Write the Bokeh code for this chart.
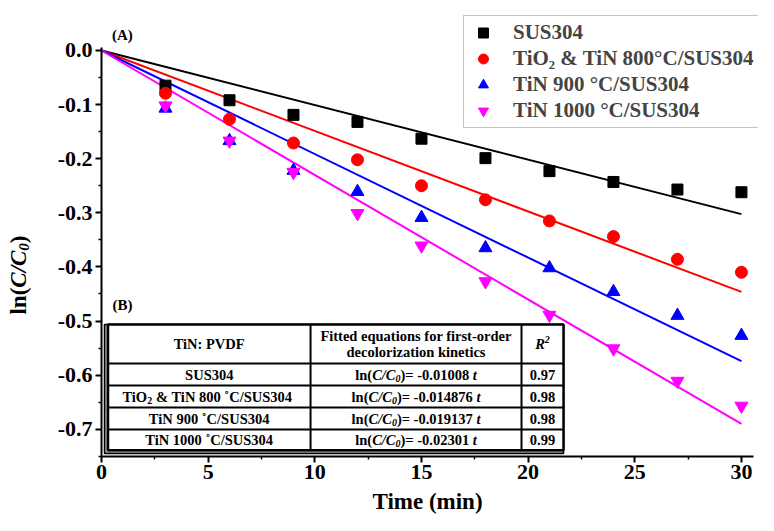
import math
from bokeh.plotting import figure
from bokeh.models import Range1d, FixedTicker, PrintfTickFormatter, Label, ColumnDataSource, LinearAxis
from bokeh.core.properties import value
from bokeh.embed import file_html
from bokeh.resources import INLINE

# ---------------- data ----------------
time_min = [3, 6, 9, 12, 15, 18, 21, 24, 27, 30]
sus304 = [-0.065, -0.092, -0.119, -0.132, -0.163, -0.199, -0.223, -0.243, -0.257, -0.262]
tin800 = [-0.079, -0.127, -0.171, -0.202, -0.250, -0.276, -0.315, -0.344, -0.386, -0.410]
tin900 = [-0.107, -0.167, -0.222, -0.261, -0.309, -0.365, -0.402, -0.446, -0.490, -0.527]
tin1000 = [-0.102, -0.167, -0.225, -0.301, -0.361, -0.427, -0.489, -0.551, -0.611, -0.657]

series_names = ["SUS304", "TiO\u2082 & TiN 800\u00b0C/SUS304", "TiN 900 \u00b0C/SUS304", "TiN 1000 \u00b0C/SUS304"]
fit_slopes = [-0.01008, -0.014876, -0.019137, -0.02301]
fit_t = [0, 30]
r_squared = ["0.97", "0.98", "0.98", "0.99"]
table_col1_header = "TiN: PVDF"
table_col2_header = ["Fitted equations for first-order", "decolorization kinetics"]

x_ticks = [0, 5, 10, 15, 20, 25, 30]
x_minor = [2.5, 7.5, 12.5, 17.5, 22.5, 27.5]
y_ticks = [0.0, -0.1, -0.2, -0.3, -0.4, -0.5, -0.6, -0.7]
y_minor = [-0.05, -0.15, -0.25, -0.35, -0.45, -0.55, -0.65, -0.75]

# ---------------- styling ----------------
FONT = "Liberation Serif"
colors = ["#000000", "#ff0000", "#0000ff", "#ff00ff"]
markers = ["square", "circle", "triangle", "inverted_triangle"]
msizes = [11, 12, 13, 13]

X_LO, X_HI = 0, 30.55
Y_LO, Y_HI = -0.75, 0.006

p = figure(width=758, height=515, output_backend="svg", toolbar_location=None,
           x_range=Range1d(-4.735, 30.80), y_range=Range1d(-0.8595, 0.0924),
           x_axis_type=None, y_axis_type=None, min_border=0)
p.outline_line_color = None
p.grid.visible = False

xax = LinearAxis(fixed_location=Y_LO, bounds=(X_LO, X_HI),
                 ticker=FixedTicker(ticks=x_ticks, minor_ticks=x_minor))
yax = LinearAxis(fixed_location=X_LO, bounds=(Y_LO, Y_HI),
                 ticker=FixedTicker(ticks=y_ticks, minor_ticks=y_minor),
                 formatter=PrintfTickFormatter(format="%.1f"))
for ax in (xax, yax):
    ax.axis_line_width = 2
    ax.major_tick_line_width = 2
    ax.minor_tick_line_width = 1.5
    ax.major_tick_in = 0
    ax.major_tick_out = 6
    ax.minor_tick_in = 0
    ax.minor_tick_out = 3
    ax.major_label_text_font = FONT
    ax.major_label_text_font_style = "bold"
    ax.major_label_text_font_size = "22px"
    ax.major_label_text_color = "black"
    ax.major_label_standoff = 3
xax.axis_label = "Time (min)"
xax.axis_label_text_font = FONT
xax.axis_label_text_font_style = "bold"
xax.axis_label_text_font_size = "23px"
xax.axis_label_text_color = "black"
xax.axis_label_standoff = 6
p.add_layout(xax, "below")
p.add_layout(yax, "left")

# ---------------- data series ----------------
all_series = [sus304, tin800, tin900, tin1000]
for ys, k, c in zip(all_series, fit_slopes, colors):
    p.line(fit_t, [k * t for t in fit_t], line_color=c, line_width=2)
for name, ys, c, m, s in zip(series_names, all_series, colors, markers, msizes):
    p.scatter(time_min, ys, marker=m, size=s, fill_color=c, line_color=c, legend_label=name)

lg = p.legend[0]
lg.location = (463, 387)
lg.label_text_font = FONT
lg.label_text_font_style = "bold"
lg.label_text_font_size = "21px"
lg.label_height = 25
lg.label_width = 275
lg.glyph_height = 25
lg.glyph_width = 30
lg.label_standoff = 15
lg.spacing = 1
lg.padding = 4
lg.margin = 0
lg.border_line_color = "#8c8c8c"
lg.border_line_width = 1.5
lg.background_fill_alpha = 1.0

# ---------------- inset table (B) ----------------
TX0, TX0i, TC1, TC2, TX1 = 0.14, 0.305, 9.80, 19.69, 21.66
TY0, TYH, TR1, TR2, TR3, TY1i, TY1 = -0.5065, -0.5786, -0.6192, -0.6599, -0.7006, -0.739, -0.745

p.quad(left=[TX0], right=[TX1], top=[TY0], bottom=[TY1], fill_color="#9a9a9a",
       line_color="black", line_width=1.5)
p.quad(left=[TX0i], right=[TX1], top=[TY0], bottom=[TY1i], fill_color="white",
       line_color="black", line_width=2.5)
p.segment(x0=[TC1, TC2], y0=[TY0, TY0], x1=[TC1, TC2], y1=[TY1i, TY1i], line_color="black", line_width=2)
p.segment(x0=[TX0i] * 4, y0=[TYH, TR1, TR2, TR3], x1=[TX1] * 4, y1=[TYH, TR1, TR2, TR3],
          line_color="black", line_width=2)

WB = dict(zip(" ()-./:=&\u00b0\u02da", [250, 333, 333, 333, 250, 278, 333, 570, 833, 400, 333]))
WB.update({d: 500 for d in "0123456789"})
WB.update(dict(zip("ABCDEFGHIJKLMNOPQRSTUVWXYZ",
                   [722, 667, 722, 722, 667, 611, 778, 778, 389, 500, 778, 667, 944, 722, 778, 611,
                    778, 722, 556, 667, 722, 722, 1000, 722, 722, 667])))
WB.update(dict(zip("abcdefghijklmnopqrstuvwxyz",
                   [500, 556, 444, 556, 444, 333, 500, 556, 278, 333, 556, 278, 833, 556, 500, 556,
                    556, 444, 389, 333, 556, 500, 722, 500, 500, 444])))
WBI = dict(WB)
WBI.update({"C": 667, "t": 278, "R": 667, "/": 278})


def pwidth(s, it, sz):
    tab = WBI if it else WB
    return sum(tab.get(ch, 500) for ch in s) * sz / 1000.0


tbl = dict(x=[], y=[], text=[], xo=[], yo=[], style=[], size=[])


def put(x, y, pieces):
    widths = [pwidth(s, it, sz) for s, it, sz, dy in pieces]
    cur = -sum(widths) / 2.0
    for (s, it, sz, dy), w in zip(pieces, widths):
        tbl["x"].append(x); tbl["y"].append(y); tbl["text"].append(s)
        tbl["xo"].append(cur); tbl["yo"].append(dy)
        tbl["style"].append("bold italic" if it else "bold")
        tbl["size"].append(f"{sz}px")
        cur += w


FS, FSS = 14.5, 10
cx1, cx2, cx3 = (TX0i + TC1) / 2, (TC1 + TC2) / 2, (TC2 + TX1) / 2
row_edges = [TYH, TR1, TR2, TR3, TY1i]
row_cy = [(row_edges[i] + row_edges[i + 1]) / 2 for i in range(4)]
hcy = (TY0 + TYH) / 2

put(cx1, hcy, [(table_col1_header, False, FS, 0)])
put(cx2, hcy + 0.0145, [(table_col2_header[0], False, FS, 0)])
put(cx2, hcy - 0.0155, [(table_col2_header[1], False, FS, 0)])
put(cx3, hcy, [("R", True, FS, 0), ("2", True, FSS, -5)])

row_label_pieces = [
    [("SUS304", False, FS, 0)],
    [("TiO", False, FS, 0), ("2", False, FSS, 4), ("\u00a0& TiN 800 \u02daC/SUS304", False, FS, 0)],
    [("TiN 900 \u02daC/SUS304", False, FS, 0)],
    [("TiN 1000 \u02daC/SUS304", False, FS, 0)],
]
for cy, lab, k, r2 in zip(row_cy, row_label_pieces, fit_slopes, r_squared):
    put(cx1, cy, lab)
    put(cx2, cy, [("ln(", False, FS, 0), ("C/C", True, FS, 0), ("0", True, FSS, 4),
                  (")= " + str(k) + " ", False, FS, 0), ("t", True, FS, 0)])
    put(cx3, cy, [(r2, False, FS, 0)])

p.text(x="x", y="y", text="text", x_offset="xo", y_offset="yo", text_font_style="style",
       text_font_size="size", text_font=value(FONT), text_align="left", text_baseline="middle",
       text_color="black", source=ColumnDataSource(tbl))

# ---------------- panel labels ----------------
p.add_layout(Label(x=0.98, y=0.028, text="(A)", text_font=FONT, text_font_style="bold",
                   text_font_size="15px", text_align="center", text_baseline="middle",
                   text_color="black"))
p.add_layout(Label(x=0.98, y=-0.471, text="(B)", text_font=FONT, text_font_style="bold",
                   text_font_size="15px", text_align="center", text_baseline="middle",
                   text_color="black"))

# ---------------- y axis title (mixed styles) ----------------
ytitle = [("ln(", False, 23, 0), ("C/C", True, 23, 0), ("0", True, 15, 6), (")", False, 23, 0)]
ywidths = [pwidth(s, it, sz) for s, it, sz, dy in ytitle]
cur = -sum(ywidths) / 2.0
for (s, it, sz, dy), w in zip(ytitle, ywidths):
    p.add_layout(Label(x=-3.9, y=-0.415, text=s, angle=math.pi / 2, x_offset=dy, y_offset=cur,
                       text_font=FONT, text_font_style="bold italic" if it else "bold",
                       text_font_size=f"{sz}px", text_align="left", text_baseline="middle",
                       text_color="black"))
    cur += w

open("out.html", "w").write(file_html(p, INLINE))
